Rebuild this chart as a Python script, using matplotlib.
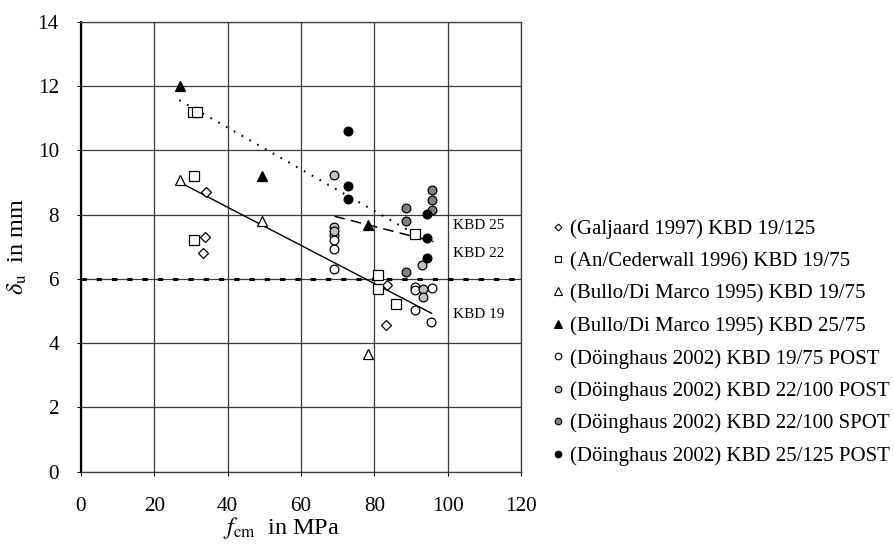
import matplotlib
matplotlib.use("Agg")
import matplotlib.pyplot as plt
from matplotlib.lines import Line2D

plt.rcParams["font.family"] = ["Liberation Serif", "DejaVu Serif"]
plt.rcParams["mathtext.fontset"] = "stix"

# data (f_cm in MPa, delta_u in mm)
galjaard_x = [34.0, 33.9, 33.2, 83.4, 83.3]
galjaard_y = [8.70, 7.30, 6.80, 5.81, 4.58]

an_x = [30.6, 31.5, 30.7, 30.7, 81.1, 81.1, 85.9, 91.1]
an_y = [11.2, 11.2, 9.20, 7.21, 6.13, 5.70, 5.21, 7.40]

bullo19_x = [27.0, 49.4, 78.2]
bullo19_y = [9.08, 7.80, 3.66]

bullo25_x = [27.0, 49.4, 78.2]
bullo25_y = [12.0, 9.20, 7.68]

doe19_x = [69.1, 69.1, 69.1, 69.1, 91.1, 91.1, 95.6, 91.1, 95.5]
doe19_y = [7.38, 7.22, 6.93, 6.32, 5.76, 5.65, 5.71, 5.03, 4.67]

doe22p_x = [69.1, 69.1, 69.1, 93.1, 93.4, 93.3]
doe22p_y = [9.23, 7.62, 7.50, 6.43, 5.69, 5.43]

doe22s_x = [95.8, 95.8, 95.8, 88.6, 88.6, 88.6]
doe22s_y = [8.77, 8.44, 8.13, 8.20, 7.80, 6.20]

doe25_x = [72.9, 72.9, 72.9, 94.3, 94.3, 94.3]
doe25_y = [10.61, 8.89, 8.49, 8.03, 7.26, 6.64]

# trend lines per bar diameter
kbd19_x = [27.0, 95.6]
kbd19_y = [9.00, 4.93]
kbd22_x = [69.1, 96.1]
kbd22_y = [7.95, 7.16]
kbd25_x = [26.8, 91.5]
kbd25_y = [11.56, 7.37]

limit_y = 6.0

series = [
    (galjaard_x, galjaard_y, "D", 4.6, "white", "(Galjaard 1997) KBD 19/125"),
    (an_x, an_y, "s", 6.6, "white", "(An/Cederwall 1996) KBD 19/75"),
    (bullo19_x, bullo19_y, "^", 7.0, "white", "(Bullo/Di Marco 1995) KBD 19/75"),
    (bullo25_x, bullo25_y, "^", 7.0, "black", "(Bullo/Di Marco 1995) KBD 25/75"),
    (doe19_x, doe19_y, "o", 6.3, "white", "(Döinghaus 2002) KBD 19/75 POST"),
    (doe22p_x, doe22p_y, "o", 6.3, "#c0c0c0", "(Döinghaus 2002) KBD 22/100 POST"),
    (doe22s_x, doe22s_y, "o", 6.3, "#808080", "(Döinghaus 2002) KBD 22/100 SPOT"),
    (doe25_x, doe25_y, "o", 6.3, "black", "(Döinghaus 2002) KBD 25/125 POST"),
]

fig = plt.figure(figsize=(8.94, 5.57), dpi=100)
ax = fig.add_axes([0.0906, 0.153, 0.4922, 0.808])

ax.set_xlim(0, 120)
ax.set_ylim(0, 14)
ax.set_xticks(range(0, 121, 20))
ax.set_yticks(range(0, 15, 2))
ax.grid(True, color="#3a3a3a", linewidth=0.9)
ax.set_axisbelow(True)

ax.axhline(limit_y, color="black", linewidth=2.2, dashes=(1.7, 3.3), zorder=2)
ax.plot(kbd19_x, kbd19_y, color="black", linewidth=1.0, zorder=2)
ax.plot(kbd22_x, kbd22_y, color="black", linewidth=1.1, dashes=(7, 4), zorder=2)
ax.plot(kbd25_x, kbd25_y, color="black", linewidth=1.5, dashes=(0.8, 3.5), zorder=2)

handles = []
for xs, ys, mk, ms, fc, label in series:
    ax.plot(xs, ys, linestyle="none", marker=mk, markersize=ms, markerfacecolor=fc,
            markeredgecolor="black", markeredgewidth=0.9, zorder=3)
    handles.append(Line2D([], [], linestyle="none", marker=mk, markersize=ms * 0.75,
                          markerfacecolor=fc, markeredgecolor="black",
                          markeredgewidth=0.8, label=label))

ax.text(101.5, 7.65, "KBD 25", fontsize=11, va="center", ha="left")
ax.text(101.5, 6.8, "KBD 22", fontsize=11, va="center", ha="left")
ax.text(101.5, 4.9, "KBD 19", fontsize=11, va="center", ha="left")

ax.tick_params(axis="both", labelsize=15.3, length=3, direction="out")
ax.tick_params(axis="x", pad=15)
ax.tick_params(axis="y", pad=13)
for side in ["top", "right", "bottom"]:
    ax.spines[side].set_color("#3a3a3a")
    ax.spines[side].set_linewidth(0.9)
ax.spines["left"].set_linewidth(1.6)

ax.set_xlabel(r"$f_{\rm cm}$  in MPa", fontsize=17.5)
ax.xaxis.set_label_coords(0.455, -0.095)
ax.set_ylabel(r"$\delta_{\rm u}$  in mm", fontsize=17.5)
ax.yaxis.set_label_coords(-0.118, 0.5)

fig.legend(handles=handles, loc="upper left", bbox_to_anchor=(0.617, 0.606),
           frameon=False, fontsize=15, handlelength=0.6, handletextpad=0.3,
           labelspacing=0.61, borderpad=0, borderaxespad=0)

fig.savefig("out.png", dpi=100)
